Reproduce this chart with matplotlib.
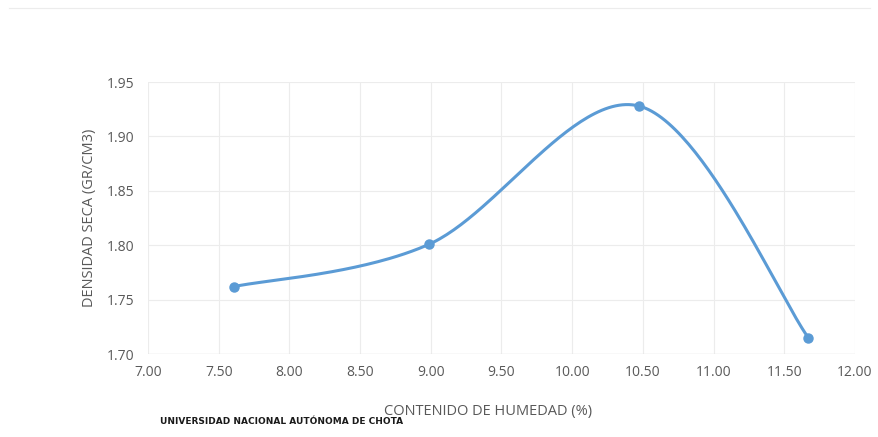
import numpy as np
import matplotlib.pyplot as plt

# data
humedad = [7.61, 8.99, 10.47, 11.67]
densidad = [1.762, 1.801, 1.928, 1.715]
x_ticks = [7.0, 7.5, 8.0, 8.5, 9.0, 9.5, 10.0, 10.5, 11.0, 11.5, 12.0]
y_ticks = [1.70, 1.75, 1.80, 1.85, 1.90, 1.95]

LINE = "#5b9bd5"
GRID = "#ececec"
TXT = "#595959"


def smooth(xs, ys, n=60):
    """Excel-like smoothed line: cubic Bezier with Catmull-Rom control points."""
    p = np.column_stack([xs, ys])
    out = []
    for i in range(len(p) - 1):
        p0 = p[i - 1] if i > 0 else p[i]
        p3 = p[i + 2] if i + 2 < len(p) else p[i + 1]
        c1 = p[i] + (p[i + 1] - p0) / 6
        c2 = p[i + 1] - (p3 - p[i]) / 6
        t = np.linspace(0, 1, n)[:, None]
        seg = ((1 - t) ** 3 * p[i] + 3 * (1 - t) ** 2 * t * c1
               + 3 * (1 - t) * t ** 2 * c2 + t ** 3 * p[i + 1])
        out.append(seg)
    seg = np.vstack(out)
    return seg[:, 0], seg[:, 1]


plt.rcParams["font.family"] = ["Open Sans", "DejaVu Sans"]

fig = plt.figure(figsize=(8.79, 4.37), dpi=100)
fig.patch.set_facecolor("white")
ax = fig.add_axes([148 / 879, 1 - 354 / 437, 707 / 879, 272 / 437])

sx, sy = smooth(humedad, densidad)
ax.plot(sx, sy, color=LINE, lw=2.2, zorder=3)
ax.plot(humedad, densidad, "o", color=LINE, ms=6.5, zorder=4)

ax.set_xlim(7.0, 12.0)
ax.set_ylim(1.70, 1.95)
ax.set_xticks(x_ticks)
ax.set_yticks(y_ticks)
ax.set_xticklabels([f"{v:.2f}" for v in x_ticks])
ax.set_yticklabels([f"{v:.2f}" for v in y_ticks])
ax.grid(True, color=GRID, lw=0.8)
ax.set_axisbelow(True)
for s in ax.spines.values():
    s.set_visible(False)
ax.axhline(1.70, color="#d6d6d6", lw=0.9, zorder=1)
ax.tick_params(length=0, colors=TXT, labelsize=10, pad=8)
ax.tick_params(axis="y", pad=10)

fig.text(90 / 879, 1 - 218 / 437, "DENSIDAD SECA (GR/CM3)", rotation=90,
         ha="center", va="center", color=TXT, fontsize=10.5)
fig.text(488 / 879, 1 - 411 / 437, "CONTENIDO DE HUMEDAD (%)",
         ha="center", va="center", color=TXT, fontsize=10.5)

# university stamp at the bottom
fig.text(160 / 879, 1 - 421 / 437, "UNIVERSIDAD NACIONAL AUTÓNOMA DE CHOTA",
         ha="left", va="center", color="#1a1a1a", fontsize=6.5,
         fontweight="bold", family="DejaVu Sans Condensed")

# faint page border at the top
fig.add_artist(plt.Line2D([0.01, 0.99], [1 - 8 / 437, 1 - 8 / 437],
                          color="#ececec", lw=0.8))

fig.savefig("out.png", dpi=100)
